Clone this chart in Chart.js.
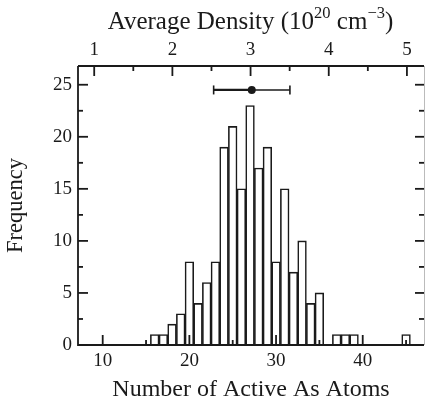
<!DOCTYPE html>
<html>
<head>
<meta charset="utf-8">
<script src="https://cdn.jsdelivr.net/npm/chart.js@4"></script>
<style>
  html, body { margin: 0; padding: 0; background: #fff; }
  #wrap { width: 425px; height: 404px; }
</style>
</head>
<body>
<div id="wrap"><canvas id="c" width="425" height="404"></canvas></div>
<script>
// ---- data ----
const atomCounts = [16, 17, 18, 19, 20, 21, 22, 23, 24, 25, 26, 27, 28, 29, 30, 31, 32, 33, 34, 35, 37, 38, 39, 45];
const frequencies = [1, 1, 2, 3, 8, 4, 6, 8, 19, 21, 15, 23, 17, 19, 8, 15, 7, 10, 4, 5, 1, 1, 1, 1];
const meanAtoms = [27.2];
const sdAtoms = [4.4];
const meanMarkerY = [24.5];
const xMajorTicks = [10, 20, 30, 40];
const xMinorTicks = [15, 25, 35, 45];
const yMajorTicks = [0, 5, 10, 15, 20, 25];
const yMinorTicks = [2.5, 7.5, 12.5, 17.5, 22.5];
const densityMajorTicks = [1, 2, 3, 4, 5];
const densityMinorTicks = [1.5, 2.5, 3.5, 4.5];
const atomsPerDensityUnit = 9.02; // atoms per 1e20 cm^-3

const X_MIN = 7.15, X_MAX = 47.07, Y_MAX = 26.8;
const FONT = "'Liberation Serif', 'Times New Roman', serif";
const INK = '#1a1a1a';

const histData = atomCounts.map((a, i) => ({ x: a, y: frequencies[i] }));

const frameTicks = {
  id: 'frameTicks',
  afterDatasetsDraw(chart) {
    const ctx = chart.ctx;
    const { left, right, top, bottom } = chart.chartArea;
    const xs = chart.scales.x, ys = chart.scales.y, xt = chart.scales.x2;
    ctx.save();
    ctx.strokeStyle = INK;
    ctx.lineWidth = 1.8;
    ctx.beginPath();
    ctx.moveTo(left, top); ctx.lineTo(right, top);
    ctx.moveTo(left, top); ctx.lineTo(left, bottom); ctx.lineTo(right, bottom);
    ctx.stroke();
    ctx.strokeStyle = '#bbb';
    ctx.lineWidth = 1;
    ctx.beginPath(); ctx.moveTo(right + 0.5, top); ctx.lineTo(right + 0.5, bottom); ctx.stroke();
    ctx.strokeStyle = INK;
    ctx.lineWidth = 1.8;
    const tick = (x1, y1, x2, y2) => { ctx.beginPath(); ctx.moveTo(x1, y1); ctx.lineTo(x2, y2); ctx.stroke(); };
    xMajorTicks.forEach(v => { const p = xs.getPixelForValue(v); tick(p, bottom, p, bottom - 10); });
    xMinorTicks.forEach(v => { const p = xs.getPixelForValue(v); tick(p, bottom, p, bottom - 5); });
    densityMajorTicks.forEach(v => { const p = xt.getPixelForValue(v); tick(p, top, p, top + 10); });
    densityMinorTicks.forEach(v => { const p = xt.getPixelForValue(v); tick(p, top, p, top + 5); });
    yMajorTicks.forEach(v => { const p = ys.getPixelForValue(v); tick(left, p, left + 10, p); tick(right, p, right - 9, p); });
    yMinorTicks.forEach(v => { const p = ys.getPixelForValue(v); tick(left, p, left + 5, p); tick(right, p, right - 5, p); });
    // error bar
    meanAtoms.forEach((m, i) => {
      const y = ys.getPixelForValue(meanMarkerY[i]);
      const xl = xs.getPixelForValue(m - sdAtoms[i]);
      const xc = xs.getPixelForValue(m);
      const xr = xs.getPixelForValue(m + sdAtoms[i]);
      ctx.lineWidth = 2.2; tick(xl, y, xc, y);
      ctx.lineWidth = 1.4; tick(xc, y, xr, y);
      ctx.lineWidth = 1.6; tick(xl, y - 4.5, xl, y + 4.5); tick(xr, y - 4.5, xr, y + 4.5);
      ctx.fillStyle = INK;
      ctx.beginPath(); ctx.arc(xc, y, 4, 0, Math.PI * 2); ctx.fill();
    });
    // top title with superscripts
    ctx.fillStyle = INK;
    ctx.textBaseline = 'alphabetic';
    const big = "25px " + FONT, small = "16.5px " + FONT;
    const parts = [["Average Density (10", big, 0], ["20", small, -10.5], [" cm", big, 0], ["\u22123", small, -10.5], [")", big, 0]];
    let total = 0;
    parts.forEach(p => { ctx.font = p[1]; total += ctx.measureText(p[0]).width; });
    let x = 250.5 - total / 2;
    const base = 28.5;
    parts.forEach(p => { ctx.font = p[1]; ctx.fillText(p[0], x, base + p[2]); x += ctx.measureText(p[0]).width; });
    ctx.restore();
  }
};

new Chart(document.getElementById('c'), {
  type: 'bar',
  data: {
    datasets: [{
      label: 'Frequency',
      data: histData,
      backgroundColor: '#ffffff',
      borderColor: INK,
      borderWidth: 1.6,
      barPercentage: 1,
      categoryPercentage: 1,
      xAxisID: 'x',
      yAxisID: 'y'
    }]
  },
  options: {
    responsive: false,
    animation: false,
    layout: { padding: { left: 0, right: 1, top: 0, bottom: 0 } },
    plugins: { legend: { display: false }, tooltip: { enabled: false } },
    scales: {
      x: {
        type: 'linear', position: 'bottom', min: X_MIN, max: X_MAX, offset: false,
        grid: { display: false, drawTicks: false, offset: false }, border: { display: false },
        afterBuildTicks: s => { s.ticks = xMajorTicks.map(v => ({ value: v })); },
        afterFit: s => { s.height = 59; },
        ticks: { color: INK, font: { family: FONT, size: 19 }, padding: 5, maxRotation: 0, autoSkip: false },
        title: { display: true, text: 'Number of Active As Atoms', color: INK, font: { family: FONT, size: 24 }, padding: { top: 0, bottom: 0 } }
      },
      x2: {
        type: 'linear', position: 'top', min: X_MIN / atomsPerDensityUnit, max: X_MAX / atomsPerDensityUnit, offset: false,
        grid: { display: false, drawTicks: false, offset: false }, border: { display: false },
        afterBuildTicks: s => { s.ticks = densityMajorTicks.map(v => ({ value: v })); },
        afterFit: s => { s.height = 66; },
        ticks: { color: INK, font: { family: FONT, size: 19 }, padding: 5, maxRotation: 0, autoSkip: false }
      },
      y: {
        type: 'linear', position: 'left', min: 0, max: Y_MAX,
        grid: { display: false, drawTicks: false }, border: { display: false },
        afterBuildTicks: s => { s.ticks = yMajorTicks.map(v => ({ value: v })); },
        afterFit: s => { s.width = 78; },
        ticks: { color: INK, font: { family: FONT, size: 19 }, padding: 6 },
        title: { display: true, text: 'Frequency', color: INK, font: { family: FONT, size: 22.5 }, padding: { top: 3, bottom: 0 } }
      }
    }
  },
  plugins: [frameTicks]
});
</script>
</body>
</html>
